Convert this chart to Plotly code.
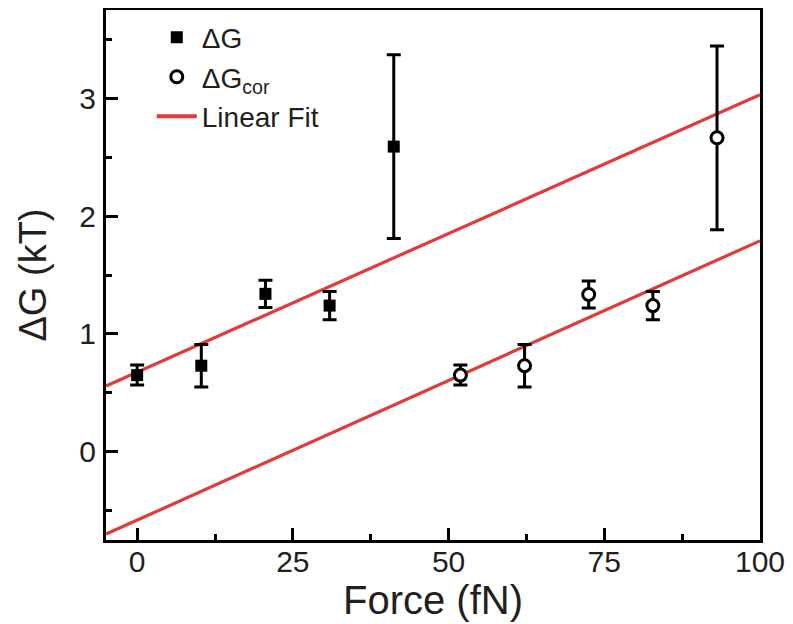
import plotly.graph_objects as go

# ---- data ----
force = [0, 10.3, 20.6, 30.9, 41.2]
dG = [0.65, 0.73, 1.34, 1.24, 2.59]
dG_err = [0.085, 0.18, 0.115, 0.12, 0.78]

force_cor = [51.9, 62.2, 72.5, 82.8, 93.1]
dG_cor = [0.65, 0.73, 1.335, 1.24, 2.665]
dG_cor_err = [0.085, 0.18, 0.115, 0.12, 0.78]

fit_x = [-5, 100]
fit_y = [0.557, 3.03]
fit_cor_y = [-0.70, 1.79]

x_ticks = [0, 25, 50, 75, 100]
y_ticks = [0, 1, 2, 3]

FONT = "Liberation Sans"
TXT = "#231f20"
RED = "#e03a3a"

fig = go.Figure()

fig.add_trace(go.Scatter(
    x=fit_x, y=fit_y, mode="lines", name="Linear Fit",
    line=dict(color=RED, width=3.2), showlegend=False))
fig.add_trace(go.Scatter(
    x=fit_x, y=fit_cor_y, mode="lines", name="Linear Fit",
    line=dict(color=RED, width=3.2), showlegend=False))

fig.add_trace(go.Scatter(
    x=force, y=dG, mode="markers", name="ΔG",
    marker=dict(symbol="square", size=12, color="black"),
    error_y=dict(type="data", array=dG_err, visible=True,
                 color="black", thickness=3, width=7)))
fig.add_trace(go.Scatter(
    x=force_cor, y=dG_cor, mode="markers", name="ΔG<sub>cor</sub>",
    marker=dict(symbol="circle", size=12, color="white",
                line=dict(color="black", width=3)),
    error_y=dict(type="data", array=dG_cor_err, visible=True,
                 color="black", thickness=3, width=7)))
# legend entry for the fit
fig.add_trace(go.Scatter(
    x=[None], y=[None], mode="lines", name="Linear Fit",
    line=dict(color=RED, width=4)))

axis_common = dict(
    showline=True, linecolor="black", linewidth=3, mirror=True,
    ticks="inside", tickcolor="black", tickwidth=3, ticklen=12,
    showgrid=False, zeroline=False,
    tickfont=dict(family=FONT, size=30, color=TXT),
    minor=dict(ticks="inside", ticklen=6, tickwidth=3, tickcolor="black",
               showgrid=False),
)

fig.update_xaxes(
    range=[-5, 100], tickvals=x_ticks, ticktext=[str(v) for v in x_ticks],
    minor_dtick=12.5, minor_tick0=0,
    title=dict(text="Force (fN)", font=dict(family=FONT, size=40, color=TXT),
               standoff=0),
    ticklabelstandoff=-7,
    **axis_common)
fig.update_yaxes(
    range=[-0.75, 3.75], tickvals=y_ticks, ticktext=[str(v) for v in y_ticks],
    minor_dtick=0.5, minor_tick0=0,
    title=dict(text="ΔG (kT)", font=dict(family=FONT, size=38, color=TXT),
               standoff=22),
    ticklabelstandoff=1,
    **axis_common)

# the page body has an 8px default margin; size the figure to fit the window
fig.update_layout(
    width=785, height=616,
    margin=dict(l=98, r=33, t=2, b=84, autoexpand=False),
    paper_bgcolor="white", plot_bgcolor="white",
    showlegend=True,
    legend=dict(x=0.07, y=0.995, xanchor="left", yanchor="top",
                bgcolor="rgba(0,0,0,0)",
                font=dict(family=FONT, size=28, color=TXT),
                itemwidth=40, tracegroupgap=0),
)

fig.write_html("out.html")
